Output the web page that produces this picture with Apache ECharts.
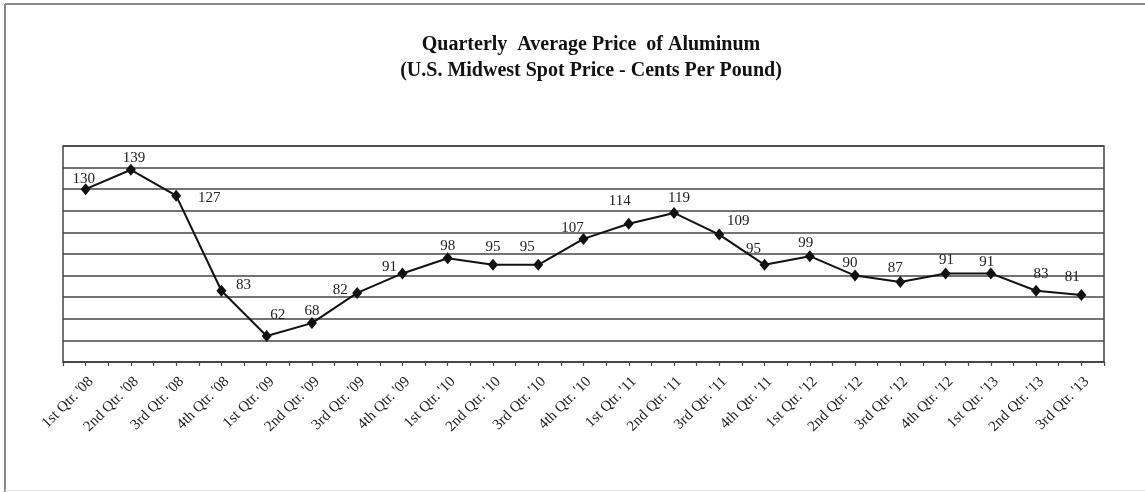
<!DOCTYPE html>
<html>
<head>
<meta charset="utf-8">
<script src="https://cdn.jsdelivr.net/npm/echarts@6/dist/echarts.min.js"></script>
<style>html,body{margin:0;padding:0;background:#fff;}#c{width:1145px;height:492px;}</style>
</head>
<body>
<div id="c"></div>
<script>
const categories = ["1st Qtr. '08","2nd Qtr. '08","3rd Qtr. '08","4th Qtr. '08","1st Qtr. '09","2nd Qtr. '09","3rd Qtr. '09","4th Qtr. '09","1st Qtr. '10","2nd Qtr. '10","3rd Qtr. '10","4th Qtr. '10","1st Qtr. '11","2nd Qtr. '11","3rd Qtr. '11","4th Qtr. '11","1st Qtr. '12","2nd Qtr. '12","3rd Qtr. '12","4th Qtr. '12","1st Qtr. '13","2nd Qtr. '13","3rd Qtr. '13"];
const prices = [130,139,127,83,62,68,82,91,98,95,95,107,114,119,109,95,99,90,87,91,91,83,81];
const titleLines = ["Quarterly  Average Price  of Aluminum","(U.S. Midwest Spot Price - Cents Per Pound)"];

// label placement (style only)
const labelOffsets = [[-2,-10],[3,-12],[33,2],[22,-6],[11,-21],[0,-12],[-17,-3],[-13,-6],[0,-12],[0,-18],[-11,-18],[-11,-11],[-9,-23],[5,-15],[19,-13],[-11,-16],[-4,-13],[-5,-13],[-5,-14],[1,-13],[-4,-11],[5,-17],[-9,-18]];

const serif = "'Liberation Serif','DejaVu Serif',serif";
const chart = echarts.init(document.getElementById('c'));
chart.setOption({
  backgroundColor: '#fff',
  animation: false,
  title: {
    text: titleLines.join('\n'),
    left: 586, top: 27, textAlign: 'center',
    textStyle: {fontFamily: serif, fontWeight: 'bold', fontSize: 20, lineHeight: 26, color: '#111'}
  },
  grid: {left: 63, right: 41, top: 146, bottom: 130, show: true, borderColor: '#444', borderWidth: 1.5, backgroundColor: 'transparent'},
  xAxis: [{
    type: 'category', data: categories, boundaryGap: true,
    axisLine: {lineStyle: {color: '#444', width: 1.5}},
    axisTick: {show: true, alignWithLabel: false, length: 4, lineStyle: {color: '#444', width: 1.2}},
    axisLabel: {rotate: 45, interval: 0, margin: 12, verticalAlign: 'top', fontFamily: serif, fontSize: 15, color: '#222'}
  },{
    type: 'category', data: categories, boundaryGap: true, position: 'bottom',
    axisLine: {show: false},
    axisTick: {show: true, alignWithLabel: true, interval: 0, length: 4, lineStyle: {color: '#444', width: 1.2}},
    axisLabel: {show: false}
  }],
  yAxis: {
    type: 'value', min: 50, max: 150, interval: 10,
    axisLine: {show: false}, axisTick: {show: false}, axisLabel: {show: false},
    splitLine: {show: true, lineStyle: {color: '#444', width: 1.5}}
  },
  series: [{
    type: 'line', xAxisIndex: 0,
    data: prices.map((v, i) => ({
      value: v,
      label: {offset: labelOffsets[i]}
    })),
    symbol: 'diamond', symbolSize: [10, 12],
    lineStyle: {color: '#111', width: 2},
    itemStyle: {color: '#111'},
    label: {show: true, position: 'inside', fontFamily: serif, fontSize: 15, color: '#222'}
  }],
  graphic: [
    {type: 'line', shape: {x1: 5, y1: 4, x2: 1145, y2: 4}, style: {stroke: '#888', lineWidth: 2}},
    {type: 'line', shape: {x1: 5, y1: 4, x2: 5, y2: 492}, style: {stroke: '#888', lineWidth: 2}},
    {type: 'line', shape: {x1: 5, y1: 490.5, x2: 1145, y2: 490.5}, style: {stroke: '#e8e8e8', lineWidth: 1}}
  ]
});
</script>
</body>
</html>
